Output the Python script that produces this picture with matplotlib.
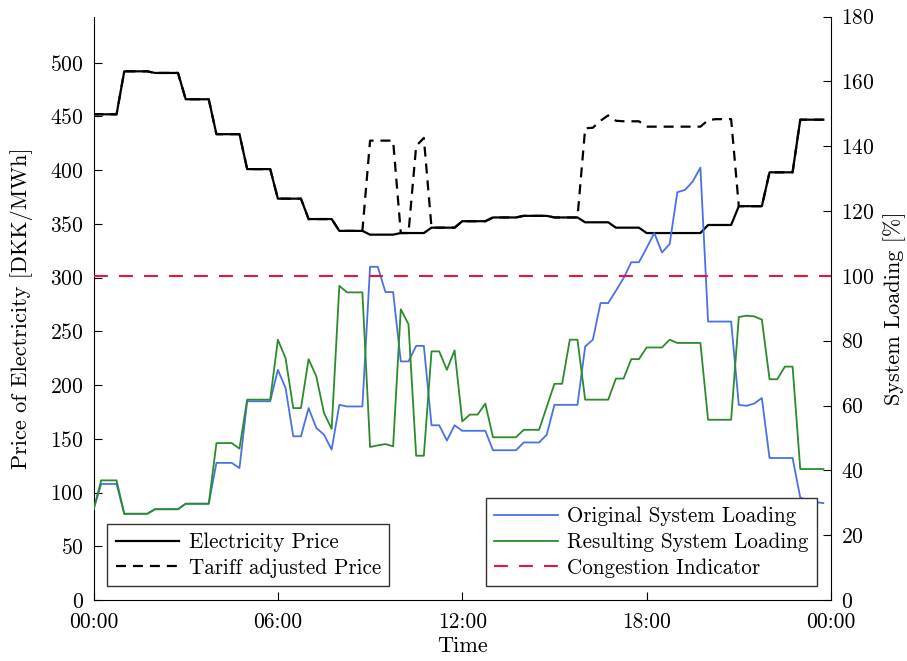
import numpy as np
import matplotlib
matplotlib.use("Agg")
import matplotlib.pyplot as plt

plt.rcParams['font.family'] = ['cmr10', 'DejaVu Serif']
plt.rcParams['axes.formatter.use_mathtext'] = True
plt.rcParams['mathtext.fontset'] = 'cm'

# ---- data (quarter-hour resolution, 96 steps) ----
price_hourly = [452, 492, 490.5, 466, 433.5, 401, 373.5, 354.5, 343.5, 340, 341.5, 346.5,
                352.5, 356, 357.5, 356, 351.5, 346.5, 341.5, 341.5, 349, 366.5, 398, 447]

# tariff-adjusted price differs from the price only in these quarter-hours
tariff_overrides = {36: 427.5, 37: 427.5, 38: 427.5, 39: 427.5,
                    42: 422.5, 43: 430,
                    64: 439, 65: 439.5, 66: 446, 67: 451, 68: 446,
                    69: 445.5, 70: 445.5, 71: 445.5,
                    72: 440.5, 73: 440.5, 74: 440.5, 75: 440.5,
                    76: 440.5, 77: 440.5, 78: 440.5, 79: 440.5,
                    80: 446.5, 81: 447.5, 82: 447.5, 83: 447.5}

original_loading = [
    27.9, 35.8, 35.8, 35.8, 26.6, 26.6, 26.6, 26.6,
    28.0, 28.0, 28.0, 28.0, 29.7, 29.7, 29.7, 29.7,
    42.3, 42.3, 42.3, 40.7, 61.3, 61.3, 61.3, 61.3,
    71.0, 65.4, 50.5, 50.5, 59.2, 53.1, 51.0, 46.4,
    60.2, 59.7, 59.7, 59.7, 102.8, 102.8, 95.0, 95.0,
    73.6, 73.6, 78.4, 78.4, 53.9, 53.9, 49.2, 53.9,
    52.2, 52.2, 52.2, 52.2, 46.2, 46.2, 46.2, 46.2,
    48.6, 48.6, 48.6, 51.0, 60.2, 60.2, 60.2, 60.2,
    78.2, 80.3, 91.6, 91.6, 95.4, 99.3, 104.2, 104.2,
    108.6, 113.2, 107.2, 109.8, 125.8, 126.5, 129.1, 133.4,
    85.9, 85.9, 85.9, 85.9, 60.2, 59.9, 60.6, 62.3,
    43.8, 43.8, 43.8, 43.8, 31.6, 30.7, 30.2, 29.9]

resulting_loading = [
    27.9, 36.9, 36.9, 36.9, 26.6, 26.6, 26.6, 26.6,
    28.0, 28.0, 28.0, 28.0, 29.7, 29.7, 29.7, 29.7,
    48.4, 48.4, 48.4, 46.7, 61.8, 61.8, 61.8, 61.8,
    80.3, 74.6, 59.2, 59.2, 74.3, 69.0, 57.7, 52.8,
    96.9, 94.9, 94.9, 94.9, 47.2, 47.7, 48.1, 47.4,
    89.7, 85.1, 44.5, 44.5, 76.7, 76.7, 71.0, 77.0,
    55.1, 57.2, 57.2, 60.6, 50.2, 50.2, 50.2, 50.2,
    52.5, 52.5, 52.5, 59.6, 66.7, 66.7, 80.3, 80.3,
    61.8, 61.8, 61.8, 61.8, 68.3, 68.3, 74.3, 74.3,
    77.9, 77.9, 77.9, 80.3, 79.3, 79.3, 79.3, 79.3,
    55.6, 55.6, 55.6, 55.6, 87.3, 87.7, 87.5, 86.5,
    68.1, 68.1, 72.0, 72.0, 40.4, 40.4, 40.4, 40.4]

congestion_level = 100
time_ticks = [0, 6, 12, 18, 24]
time_labels = ['00:00', '06:00', '12:00', '18:00', '00:00']

# ---- derived ----
t = np.arange(96) * 0.25
price = np.repeat(price_hourly, 4).astype(float)
tariff = price.copy()
for k, v in tariff_overrides.items():
    tariff[k] = v

fig = plt.figure(figsize=(9.07, 6.61), dpi=100)
ax1 = fig.add_axes([0.1031, 0.0923, 0.9162 - 0.1031, 0.975 - 0.0923])
ax2 = ax1.twinx()

fs_tick = 15.5
fs_lab = 16
fs_leg = 15.2
lw_b = 1.6
l_price, = ax1.plot(t, price, color='black', lw=lw_b, label='Electricity Price')
l_tariff, = ax1.plot(t, tariff, color='black', lw=lw_b, label='Tariff adjusted Price')
l_tariff.set_dashes((7.2 / lw_b, 5.0 / lw_b))

l_orig, = ax2.plot(t, original_loading, color='#4a70e6', lw=1.3, label='Original System Loading')
l_res, = ax2.plot(t, resulting_loading, color='#2a8c2a', lw=1.3, label='Resulting System Loading')
lw_r = 1.5
l_cong = ax2.axhline(congestion_level, color='#e3173e', lw=lw_r, label='Congestion Indicator')
l_cong.set_dashes((10.0 / lw_r, 8.0 / lw_r))

ax1.set_xlim(0, 24)
ax1.set_ylim(0, 543)
ax2.set_ylim(0, 180)
ax1.set_yticks(np.arange(0, 501, 50))
ax2.set_yticks(np.arange(0, 181, 20))
ax1.set_xticks(time_ticks)
ax1.set_xticklabels(time_labels)

for ax in (ax1, ax2):
    ax.spines['top'].set_visible(False)
    ax.tick_params(direction='in', length=5.5, width=0.8, labelsize=fs_tick, pad=7)
ax2.spines['left'].set_visible(False)
ax2.spines['bottom'].set_visible(False)
ax1.spines['right'].set_visible(False)
ax1.tick_params(axis='x', pad=9)

ax1.set_xlabel('Time', fontsize=fs_lab, labelpad=3)
ax1.set_ylabel('Price of Electricity [DKK/MWh]', fontsize=fs_lab, va='center')
ax2.set_ylabel('System Loading [%]', fontsize=fs_lab, va='center')
ax1.yaxis.set_label_coords(-0.097, 0.5)
ax2.yaxis.set_label_coords(1.0868, 0.5)

leg_kw = dict(fontsize=fs_leg, frameon=True, fancybox=False, framealpha=1.0,
              edgecolor='#333333', handlelength=3.0, handletextpad=0.45,
              borderaxespad=0.65, labelspacing=0.3, borderpad=0.4)
leg1 = ax2.legend(handles=[l_price, l_tariff], loc='lower left', **leg_kw)
leg1.get_frame().set_linewidth(1.0)
ax2.add_artist(leg1)
leg2 = ax2.legend(handles=[l_orig, l_res, l_cong], loc='lower right', **leg_kw)
leg2.get_frame().set_linewidth(1.0)

fig.savefig('out.png', dpi=100)
